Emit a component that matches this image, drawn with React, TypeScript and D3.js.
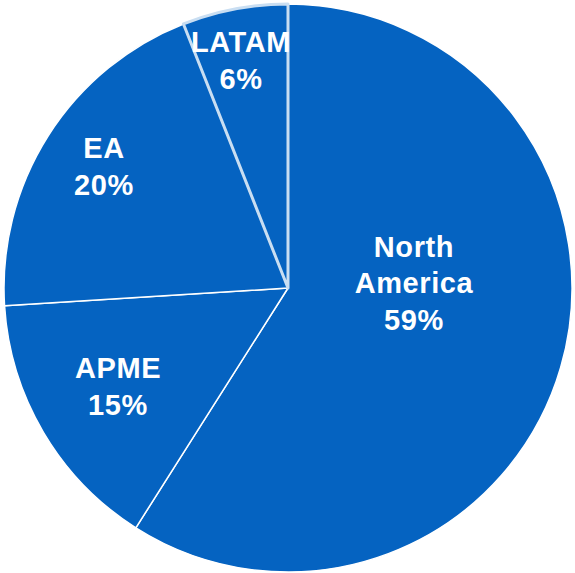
import React from "react";
import * as d3 from "d3";

const categories = ["North America", "APME", "EA", "LATAM"];
const values = [59, 15, 20, 6];
const labelLines = [["North", "America", "59%"], ["APME", "15%"], ["EA", "20%"], ["LATAM", "6%"]];

export default function App() {
  const W = 575, H = 573;
  const cx = 288, cy = 288, r = 284;
  const pie = d3.pie<number>().sort(null).value((d) => d)(values);
  const arc = d3.arc<d3.PieArcDatum<number>>().innerRadius(0).outerRadius(r);
  const labelPos: [number, number][] = [
    [414, 283],
    [118, 386],
    [104, 166],
    [241, 60],
  ];
  return (
    <svg width={W} height={H} style={{ position: "absolute", left: 0, top: 0 }}>
      <g transform={`translate(${cx},${cy})`}>
        {pie.map((p, i) => (
          <path
            key={categories[i]}
            d={arc(p) || ""}
            fill="#0563C1"
            stroke={i === 3 ? "#c9def2" : "#ffffff"}
            strokeWidth={i === 3 ? 3 : 1.5}
            strokeLinejoin="round"
          />
        ))}
      </g>
      {labelLines.map((lines, i) => {
        const [x, y] = labelPos[i];
        const lh = 36.5;
        const y0 = y - ((lines.length - 1) * lh) / 2;
        return (
          <text
            key={categories[i]}
            x={x}
            textAnchor="middle"
            fill="#ffffff"
            fontFamily="'Liberation Sans', Arial, sans-serif"
            fontWeight="bold"
            fontSize={29}
            letterSpacing={0.6}
          >
            {lines.map((l, j) => (
              <tspan key={j} x={x} y={y0 + j * lh} dy="0.36em">
                {l}
              </tspan>
            ))}
          </text>
        );
      })}
    </svg>
  );
}
